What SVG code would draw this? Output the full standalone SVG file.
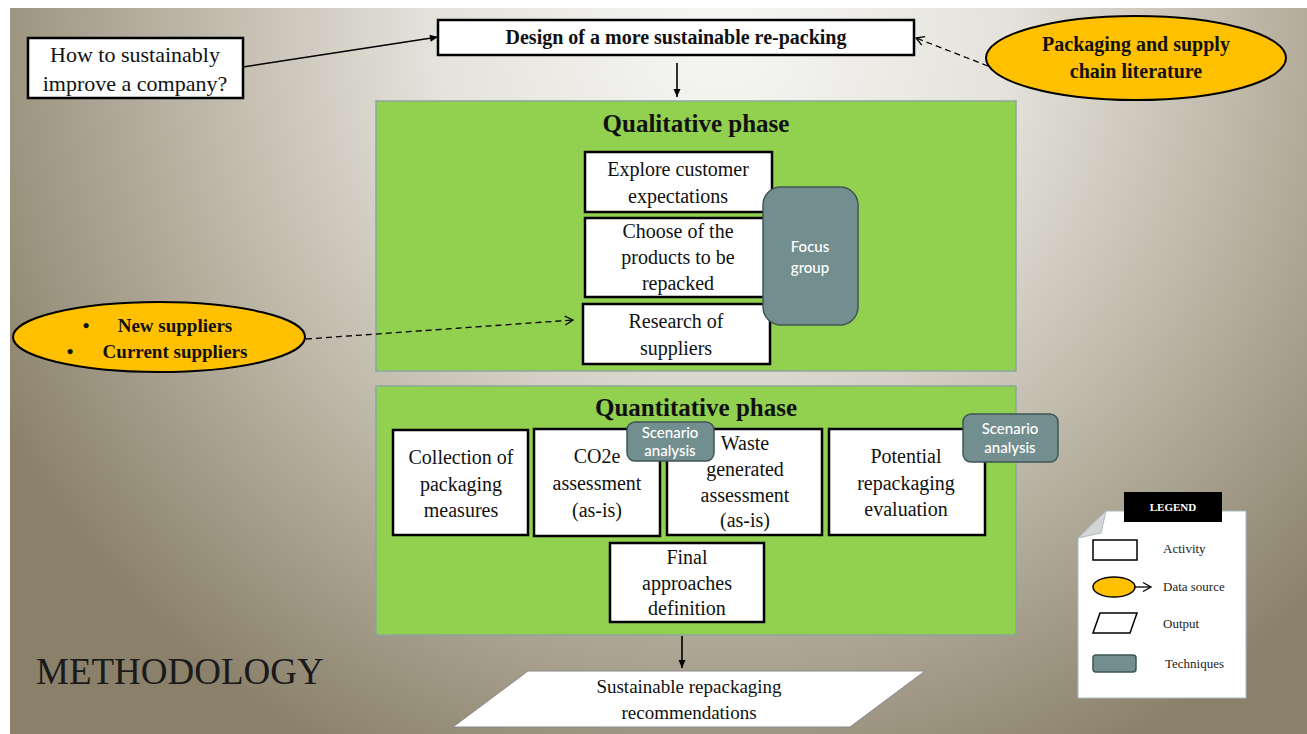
<svg xmlns="http://www.w3.org/2000/svg" width="1307" height="734" viewBox="0 0 1307 734">
<defs>
<radialGradient id="bg" gradientUnits="userSpaceOnUse" cx="720" cy="30" r="820">
<stop offset="0" stop-color="#f7f7f5"/>
<stop offset="0.35" stop-color="#e4e2db"/>
<stop offset="0.65" stop-color="#bcb6a6"/>
<stop offset="1" stop-color="#8b816b"/>
</radialGradient>
<marker id="ah" markerWidth="10" markerHeight="10" refX="9" refY="5" orient="auto" markerUnits="userSpaceOnUse">
<path d="M1,1.5 L9,5 L1,8.5 Z" fill="#000"/>
</marker>
<marker id="oh" markerWidth="12" markerHeight="12" refX="10" refY="6" orient="auto" markerUnits="userSpaceOnUse">
<path d="M2,1.5 L10,6 L2,10.5" fill="none" stroke="#000" stroke-width="1.3"/>
</marker>
</defs>
<style>
.serif{font-family:"Liberation Serif",serif;fill:#111;text-anchor:middle}
.act{fill:#fff;stroke:#000;stroke-width:2.5}
.t{font-size:20px}
.b{font-weight:bold}
.phase{fill:#92D050;stroke:#8aa89a;stroke-width:1.5}
.tech{fill:#738e8e;stroke:#3f5656;stroke-width:1.5}
.sans{font-family:Lato,"Open Sans",sans-serif;fill:#fff;text-anchor:middle;font-size:15px;font-weight:500}
.src{fill:#FFC000;stroke:#000;stroke-width:2}
.leg{font-family:"Liberation Serif",serif;fill:#222;font-size:13px}
</style>
<rect x="0" y="0" width="1307" height="734" fill="#fff"/>
<rect x="10" y="8" width="1297" height="726" fill="url(#bg)"/>

<g id="question">
<rect x="28" y="38" width="215" height="60" class="act" stroke-width="2"/>
<text class="serif" x="135" y="62" font-size="22">How to sustainably</text>
<text class="serif" x="135" y="91" font-size="22">improve a company?</text>
</g>

<g id="design">
<rect x="438" y="20" width="476" height="35" class="act" stroke-width="3"/>
<text class="serif b" x="676" y="44" font-size="20">Design of a more sustainable re-packing</text>
</g>

<g id="literature">
<ellipse cx="1136" cy="58" rx="150" ry="42" class="src"/>
<text class="serif b" x="1136" y="51" font-size="20">Packaging and supply</text>
<text class="serif b" x="1136" y="78" font-size="20">chain literature</text>
</g>

<g id="qualitative">
<rect x="376" y="101" width="640" height="270" class="phase"/>
<text class="serif b" x="696" y="132" font-size="25">Qualitative phase</text>
</g>

<g id="explore">
<rect x="585" y="152" width="187" height="60" class="act" stroke-width="2"/>
<text class="serif t" x="678" y="176">Explore customer</text>
<text class="serif t" x="678" y="203">expectations</text>
</g>

<g id="choose">
<rect x="585" y="218" width="187" height="79" class="act" stroke-width="2"/>
<text class="serif t" x="678" y="238">Choose of the</text>
<text class="serif t" x="678" y="264">products to be</text>
<text class="serif t" x="678" y="290">repacked</text>
</g>

<g id="research">
<rect x="583" y="304" width="187" height="60" class="act" stroke-width="2"/>
<text class="serif t" x="676" y="328">Research of</text>
<text class="serif t" x="676" y="355">suppliers</text>
</g>

<g id="focus">
<rect x="763" y="187" width="95" height="138" rx="18" class="tech"/>
<text class="sans" x="810" y="252">Focus</text>
<text class="sans" x="810" y="273">group</text>
</g>

<g id="suppliers">
<ellipse cx="159" cy="337" rx="146" ry="35" class="src"/>
<text class="serif b" x="86" y="332" font-size="19">•</text>
<text class="serif b" x="175" y="332" font-size="19">New suppliers</text>
<text class="serif b" x="70" y="358" font-size="19">•</text>
<text class="serif b" x="175" y="358" font-size="19">Current suppliers</text>
</g>

<g id="quantitative">
<rect x="376" y="386" width="640" height="249" class="phase"/>
<text class="serif b" x="696" y="416" font-size="25">Quantitative phase</text>
</g>

<g id="collection">
<rect x="393" y="430" width="135" height="105" class="act" stroke-width="2"/>
<text class="serif t" x="461" y="464">Collection of</text>
<text class="serif t" x="461" y="491">packaging</text>
<text class="serif t" x="461" y="517">measures</text>
</g>

<g id="co2e">
<rect x="534" y="429" width="126" height="107" class="act" stroke-width="2"/>
<text class="serif t" x="597" y="463">CO2e</text>
<text class="serif t" x="597" y="490">assessment</text>
<text class="serif t" x="597" y="517">(as-is)</text>
</g>

<g id="waste">
<rect x="667" y="429" width="155" height="106" class="act" stroke-width="2"/>
<text class="serif t" x="745" y="450">Waste</text>
<text class="serif t" x="745" y="476">generated</text>
<text class="serif t" x="745" y="502">assessment</text>
<text class="serif t" x="745" y="527">(as-is)</text>
</g>

<g id="scenario1">
<rect x="627" y="422" width="87" height="39" rx="8" class="tech"/>
<text class="sans" x="670" y="438">Scenario</text>
<text class="sans" x="670" y="456">analysis</text>
</g>

<g id="potential">
<rect x="829" y="429" width="156" height="106" class="act" stroke-width="2"/>
<text class="serif t" x="906" y="463">Potential</text>
<text class="serif t" x="906" y="490">repackaging</text>
<text class="serif t" x="906" y="516">evaluation</text>
</g>

<g id="scenario2">
<rect x="963" y="414" width="95" height="48" rx="8" class="tech"/>
<text class="sans" x="1010" y="434">Scenario</text>
<text class="sans" x="1010" y="453">analysis</text>
</g>

<g id="final">
<rect x="610" y="543" width="154" height="79" class="act" stroke-width="2"/>
<text class="serif t" x="687" y="564">Final</text>
<text class="serif t" x="687" y="590">approaches</text>
<text class="serif t" x="687" y="615">definition</text>
</g>

<g id="output">
<polygon points="453,727 528,671 925,671 850,727" fill="#fff" stroke="#888" stroke-width="1"/>
<text class="serif" x="689" y="693" font-size="19">Sustainable repackaging</text>
<text class="serif" x="689" y="719" font-size="19">recommendations</text>
</g>

<g id="title">
<text x="36" y="684" font-family="Liberation Serif, serif" font-size="37" fill="#1a1a1a">METHODOLOGY</text>
</g>

<g id="legend">
<polygon points="1106,511 1246,511 1246,698 1078,698 1078,538" fill="#fff" stroke="#a9bcbc" stroke-width="1"/>
<polygon points="1078,538 1106,511 1101,533" fill="#d5d5d5" stroke="#a9bcbc" stroke-width="1"/>
<rect x="1124" y="492" width="98" height="30" fill="#000"/>
<text x="1173" y="511" font-family="Liberation Serif, serif" font-size="11" font-weight="bold" fill="#fff" text-anchor="middle">LEGEND</text>
<rect x="1093" y="540" width="44" height="20" fill="#fff" stroke="#000" stroke-width="1.5"/>
<text class="leg" x="1163" y="553">Activity</text>
<ellipse cx="1114" cy="587" rx="21" ry="10" fill="#FFC000" stroke="#000" stroke-width="1.5"/>
<line x1="1135" y1="587" x2="1151" y2="587" stroke="#000" stroke-width="1.3" marker-end="url(#oh)"/>
<text class="leg" x="1163" y="591">Data source</text>
<polygon points="1093,633 1100,613 1137,613 1130,633" fill="#fff" stroke="#000" stroke-width="1.5"/>
<text class="leg" x="1163" y="628">Output</text>
<rect x="1093" y="655" width="43" height="17" rx="3" class="tech"/>
<text class="leg" x="1165" y="668">Techniques</text>
</g>

<g id="connectors" fill="none" stroke="#000" stroke-width="1.6">
<line x1="243" y1="67" x2="438" y2="37" marker-end="url(#ah)"/>
<line x1="988" y1="66" x2="916" y2="38" stroke-dasharray="6,4" stroke-width="1.3" marker-end="url(#oh)"/>
<line x1="677" y1="63" x2="677" y2="97" marker-end="url(#ah)"/>
<line x1="306" y1="339" x2="573" y2="320" stroke-dasharray="6,4" stroke-width="1.3" marker-end="url(#oh)"/>
<line x1="682" y1="636" x2="682" y2="668" marker-end="url(#ah)"/>
</g>
</svg>
